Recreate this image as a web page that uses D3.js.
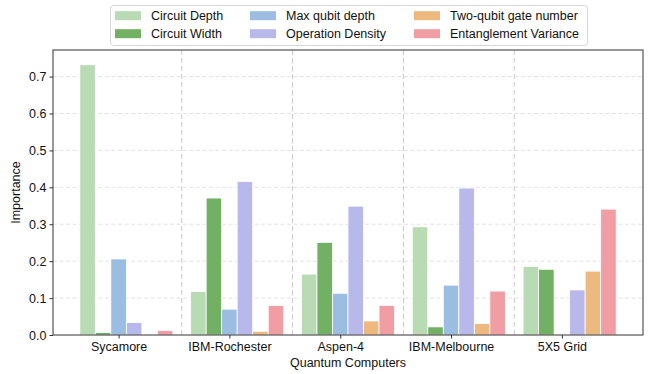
<!DOCTYPE html>
<html>
<head>
<meta charset="utf-8">
<script src="https://cdn.jsdelivr.net/npm/d3@7"></script>
<style>
  body { margin: 0; background: #fff; }
  svg { font-family: "Liberation Sans", Arial, sans-serif; }
</style>
</head>
<body>
<svg id="chart" width="662" height="374"></svg>
<script>
// data
var computers = ["Sycamore", "IBM-Rochester", "Aspen-4", "IBM-Melbourne", "5X5 Grid"];
var features = ["Circuit Depth", "Circuit Width", "Max qubit depth", "Operation Density",
    "Two-qubit gate number", "Entanglement Variance"];
var circuitDepth = [0.732, 0.118, 0.165, 0.293, 0.186];
var circuitWidth = [0.007, 0.371, 0.251, 0.022, 0.178];
var maxQubitDepth = [0.206, 0.070, 0.113, 0.135, 0.0];
var operationDensity = [0.034, 0.416, 0.349, 0.398, 0.122];
var twoQubitGates = [0.0, 0.010, 0.038, 0.031, 0.173];
var entanglementVar = [0.012, 0.080, 0.080, 0.119, 0.341];
var yTicks = [0.0, 0.1, 0.2, 0.3, 0.4, 0.5, 0.6, 0.7];

var series = [circuitDepth, circuitWidth, maxQubitDepth, operationDensity, twoQubitGates, entanglementVar];
var colors = ["#b9dbb3", "#72b063", "#9bbde1", "#b8b8eb", "#edb97f", "#f09ea3"];

var svg = d3.select("#chart");
var margin = { left: 53, right: 19, top: 50, bottom: 39 };
var W = 662, H = 374;
var barW = 0.14;

// numeric x like matplotlib: group i at x = i, bars offset (k-2)*barW
var x = d3.scaleLinear()
    .domain([-0.592, 4.732])
    .range([margin.left, W - margin.right]);
var y = d3.scaleLinear()
    .domain([0, 0.772])
    .range([H - margin.bottom, margin.top]);

var g = svg.append("g");

// horizontal grid
g.selectAll(".hgrid")
    .data(yTicks.slice(1)).enter().append("line")
    .attr("x1", x.range()[0]).attr("x2", x.range()[1])
    .attr("y1", function (d) { return y(d); })
    .attr("y2", function (d) { return y(d); })
    .style("stroke", "#dcdcdc").style("stroke-width", 0.8)
    .style("stroke-dasharray", "4,2.5");

// vertical separators between groups
g.selectAll(".vsep")
    .data(d3.range(computers.length - 1)).enter().append("line")
    .attr("x1", function (d) { return x(d + 0.57); })
    .attr("x2", function (d) { return x(d + 0.57); })
    .attr("y1", y.range()[0]).attr("y2", y.range()[1])
    .style("stroke", "#c8c8c8").style("stroke-width", 1)
    .style("stroke-dasharray", "5,3");

// bars
series.forEach(function (vals, k) {
    g.append("g").selectAll("rect")
        .data(vals).enter().append("rect")
        .attr("x", function (d, i) { return x(i + (k - 2.5) * barW); })
        .attr("width", x(barW) - x(0))
        .attr("y", function (d) { return y(d); })
        .attr("height", function (d) { return y(0) - y(d); })
        .style("fill", colors[k])
        .style("stroke", "#fff").style("stroke-width", 0.8)
        .style("display", function (d) { return d > 0 ? null : "none"; });
});

// frame
g.append("rect")
    .attr("x", x.range()[0]).attr("y", y.range()[1])
    .attr("width", x.range()[1] - x.range()[0])
    .attr("height", y.range()[0] - y.range()[1])
    .style("fill", "none").style("stroke", "#333").style("stroke-width", 1);

// axes
var xAxis = d3.axisBottom(x)
    .tickValues(d3.range(computers.length))
    .tickFormat(function (d) { return computers[d]; })
    .tickSize(3.5).tickSizeOuter(0);
var yAxis = d3.axisLeft(y)
    .tickValues(yTicks)
    .tickFormat(d3.format(".1f"))
    .tickSize(3.5).tickSizeOuter(0);

var xa = svg.append("g").attr("transform", "translate(0," + y(0) + ")").call(xAxis);
var ya = svg.append("g").attr("transform", "translate(" + x.range()[0] + ",0)").call(yAxis);
[xa, ya].forEach(function (a) {
    a.select(".domain").remove();
    a.selectAll("line").style("stroke", "#333");
    a.selectAll("text").style("font-size", "12.5px").style("fill", "#111")
        .style("font-family", "Liberation Sans, Arial, sans-serif");
});
xa.selectAll("text").attr("dy", "0.75em");

svg.append("text")
    .attr("x", (x.range()[0] + x.range()[1]) / 2).attr("y", 367)
    .attr("text-anchor", "middle")
    .style("font-size", "12.5px").style("fill", "#111")
    .text("Quantum Computers");
svg.append("text")
    .attr("transform", "translate(20," + ((y.range()[0] + y.range()[1]) / 2) + ") rotate(-90)")
    .attr("text-anchor", "middle")
    .style("font-size", "12.5px").style("fill", "#111")
    .text("Importance");

// legend
var legend = svg.append("g");
legend.append("rect")
    .attr("x", 110.5).attr("y", 5.5).attr("width", 477).attr("height", 40)
    .attr("rx", 3).attr("ry", 3)
    .style("fill", "#fff").style("stroke", "#d6d6d6").style("stroke-width", 1);
var colX = [115, 250, 414];
var rowY = [15.7, 33.7];
var items = legend.selectAll(".legend")
    .data(features).enter().append("g")
    .attr("class", "legend")
    .attr("transform", function (d, i) {
        return "translate(" + colX[Math.floor(i / 2)] + "," + rowY[i % 2] + ")";
    });
items.append("rect")
    .attr("x", 0).attr("y", -4.5).attr("width", 26).attr("height", 9)
    .style("fill", function (d, i) { return colors[i]; });
items.append("text")
    .attr("x", 36).attr("dy", "0.35em")
    .style("font-size", "12.5px").style("fill", "#111")
    .text(function (d) { return d; });
</script>
</body>
</html>
